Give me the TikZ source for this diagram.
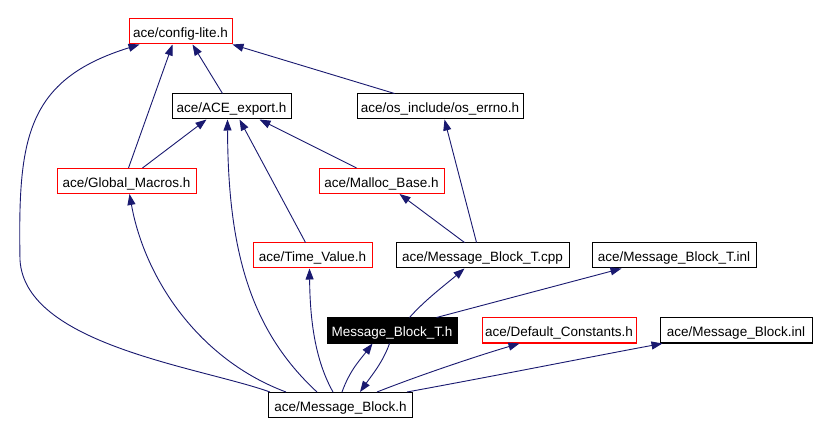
\documentclass[tikz,border=0pt]{standalone}
\usepackage{fontspec}
\setmainfont{Liberation Sans}
\usetikzlibrary{arrows.meta}
\definecolor{edgeblue}{HTML}{191970}
\definecolor{boxred}{HTML}{FF0000}
\begin{document}
\begin{tikzpicture}[x=1pt,y=-1pt,
  box/.style={rectangle, line width=1pt, inner sep=0pt, minimum height=25pt,
    text height=13pt, text depth=0pt, font=\fontsize{13.5}{16}\selectfont},
  redbox/.style={box, draw=boxred},
  blackbox/.style={box, draw=black},
  focusbox/.style={box, draw=black, fill=black, text=white},
  edge/.style={draw=edgeblue, line width=0.9pt, -{Triangle[length=11pt,width=8pt]}}
]
\useasboundingbox (0,0) rectangle (816,435);
\fill[white] (0,0) rectangle (816,435);

% nodes
\node[redbox,   minimum width=103pt] (cfg)  at (180.5,31.5) {ace/config-lite.h};
\node[blackbox, minimum width=119pt] (ace)  at (231.5,106.5) {ace/ACE\_export.h};
\node[blackbox, minimum width=166pt] (err)  at (440,106.5) {ace/os\_include/os\_errno.h};
\node[redbox,   minimum width=139pt] (gm)   at (126.5,181) {ace/Global\_Macros.h};
\node[redbox,   minimum width=125pt] (mal)  at (381.5,181) {ace/Malloc\_Base.h};
\node[redbox,   minimum width=119pt] (tv)   at (312.5,255.5) {ace/Time\_Value.h};
\node[blackbox, minimum width=173pt] (tcpp) at (482.5,255.5) {ace/Message\_Block\_T.cpp};
\node[blackbox, minimum width=164pt] (tinl) at (674,255.5) {ace/Message\_Block\_T.inl};
\node[focusbox, minimum width=130pt] (mbt)  at (392,330.5) {Message\_Block\_T.h};
\node[redbox,   minimum width=154pt] (dc)   at (559,330.5) {ace/Default\_Constants.h};
\node[blackbox, minimum width=152pt] (mbi)  at (736,330.5) {ace/Message\_Block.inl};
\node[blackbox, minimum width=144pt] (mb)   at (340.5,405) {ace/Message\_Block.h};

\coordinate (lbend) at (20,260);

% edges
\draw[edge] ([xshift=2pt]mb.north west) .. controls (200,367) and (25,345) .. (lbend)
            .. controls (18,140) and (25,80) .. ([xshift=11pt]cfg.south west);
\draw[edge] ([xshift=72pt]gm.north west) -- ([xshift=44pt]cfg.south west);
\draw[edge] ([xshift=51pt]ace.north west) -- ([xshift=64pt]cfg.south west);
\draw[edge] ([xshift=38pt]err.north west) -- (cfg.south east);
\draw[edge] ([xshift=86pt]gm.north west) -- ([xshift=35pt]ace.south west);
\draw[edge] ([xshift=18pt]mb.north west) .. controls (200,360) and (145,280) .. ([xshift=73pt]gm.south west);
\draw[edge] ([xshift=49pt]mb.north west) .. controls (250,330) and (228,250) .. ([xshift=56pt]ace.south west);
\draw[edge] ([xshift=53pt]tv.north west) -- ([xshift=68pt]ace.south west);
\draw[edge] ([xshift=38pt]mal.north west) -- ([xshift=88pt]ace.south west);
\draw[edge] ([xshift=81pt]tcpp.north west) -- ([xshift=88pt]err.south west);
\draw[edge] ([xshift=69pt]tcpp.north west) -- ([xshift=81pt]mal.south west);
\draw[edge] ([xshift=65pt]mb.north west) .. controls (315,360) and (310,320) .. ([xshift=57pt]tv.south west);
\draw[edge] ([xshift=83pt]mbt.north west) .. controls (425,300) and (445,285) .. ([xshift=69pt]tcpp.south west);
\draw[edge] ([xshift=110pt]mbt.north west) -- ([xshift=30pt]tinl.south west);
\draw[edge] ([xshift=74pt]mb.north west) .. controls (350,370) and (360,360) .. ([xshift=46pt]mbt.south west);
\draw[edge] ([xshift=63pt]mbt.south west) .. controls (383,362) and (372,375) .. ([xshift=92pt]mb.north west);
\draw[edge] ([xshift=109pt]mb.north west) .. controls (420,375) and (480,355) .. ([xshift=38pt]dc.south west);
\draw[edge] ([xshift=139pt]mb.north west) .. controls (500,375) and (600,355) .. ([xshift=3pt]mbi.south west);
\end{tikzpicture}
\end{document}
